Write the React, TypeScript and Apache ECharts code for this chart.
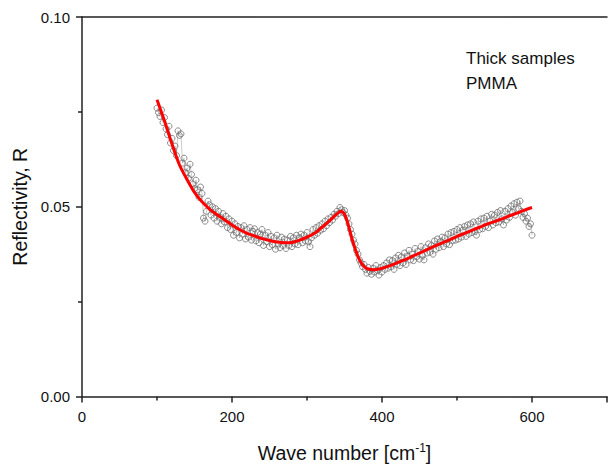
import React, { useEffect, useRef } from "react";
import * as echarts from "echarts";

const X_TICKS = [0, 200, 400, 600];
const Y_TICKS = ["0.00", "0.05", "0.10"];

// measured spectrum: wave number grid start and spacing
const MEAS_START = 100;
const MEAS_STEP = 2;
const measuredR = [
  0.076, 0.0748, 0.0738, 0.0755, 0.0722, 0.0735, 0.0705, 0.069, 0.0712, 0.0668,
  0.068, 0.0648, 0.066, 0.0635, 0.07, 0.0688, 0.0692, 0.0615, 0.0628, 0.059,
  0.0602, 0.0575, 0.0612, 0.0585, 0.056, 0.0548, 0.057, 0.0545, 0.0525, 0.0552,
  0.0535, 0.047, 0.0462, 0.0488, 0.0515, 0.0505, 0.0478, 0.05, 0.047, 0.0495,
  0.0462, 0.0488, 0.0472, 0.0455, 0.0482, 0.046, 0.0475, 0.0445, 0.0468, 0.044,
  0.0462, 0.0425, 0.0455, 0.0432, 0.0448, 0.0418, 0.0445, 0.0428, 0.045, 0.0415,
  0.044, 0.042, 0.0445, 0.0412, 0.0435, 0.0442, 0.041, 0.0432, 0.0405, 0.0428,
  0.044, 0.0398, 0.0425, 0.0408, 0.0432, 0.0395, 0.0422, 0.04, 0.0418, 0.0388,
  0.0425, 0.0402, 0.0392, 0.042, 0.0398, 0.0415, 0.039, 0.0412, 0.0398, 0.0422,
  0.0395, 0.0418, 0.0402, 0.0425, 0.04, 0.0418, 0.0428, 0.0405, 0.0425, 0.041,
  0.0432, 0.0408, 0.0395, 0.0418, 0.044, 0.0425, 0.0445, 0.043, 0.045, 0.0438,
  0.0455, 0.0442, 0.0462, 0.045, 0.0468, 0.0458, 0.0472, 0.0465, 0.048, 0.0475,
  0.0488, 0.0482, 0.0498, 0.0492, 0.0485, 0.049, 0.0478, 0.047, 0.0455, 0.044,
  0.0428, 0.0412, 0.0402, 0.0385, 0.0375, 0.036, 0.0352, 0.0342, 0.0348, 0.0335,
  0.0325, 0.034, 0.033, 0.0322, 0.0338, 0.0328, 0.0345, 0.0332, 0.032, 0.034,
  0.0328, 0.0345, 0.0335, 0.0352, 0.0338, 0.036, 0.0342, 0.0358, 0.0335, 0.0365,
  0.0348, 0.0372, 0.0345, 0.0368, 0.0352, 0.0378, 0.0348, 0.037, 0.0385, 0.036,
  0.0375, 0.0358, 0.039, 0.0368, 0.0382, 0.0362, 0.0395, 0.0372, 0.036, 0.0392,
  0.0378, 0.0402, 0.038, 0.0398, 0.0375, 0.041, 0.0388, 0.0415, 0.0392, 0.0408,
  0.042, 0.0395, 0.0418, 0.0402, 0.0428, 0.04, 0.0432, 0.041, 0.0435, 0.0412,
  0.044, 0.0415, 0.0445, 0.042, 0.0438, 0.0448, 0.0422, 0.0452, 0.0428, 0.0455,
  0.0432, 0.046, 0.0435, 0.0425, 0.0462, 0.044, 0.0468, 0.0442, 0.047, 0.0448,
  0.0475, 0.0445, 0.0462, 0.048, 0.0452, 0.0478, 0.0458, 0.0485, 0.046, 0.049,
  0.0468, 0.0452, 0.0488, 0.0465, 0.0495, 0.0472, 0.0502, 0.0485, 0.0508, 0.0478,
  0.0512, 0.0495, 0.0515, 0.0488, 0.0472, 0.0482, 0.0462, 0.047, 0.0448, 0.0455,
  0.0425,
];

// fitted model curve
const fitX = [
  100, 110, 120, 130, 140, 150, 160, 170, 180, 190, 200, 210, 220, 230, 240, 250,
  260, 270, 280, 290, 300, 310, 320, 330, 340, 345, 350, 355, 360, 365, 370, 375,
  380, 390, 400, 410, 420, 430, 440, 450, 460, 470, 480, 490, 500, 510, 520, 530,
  540, 550, 560, 570, 580, 590, 600,
];
const fitR = [
  0.0782, 0.0726, 0.0665, 0.061, 0.0572, 0.0538, 0.0513, 0.0494, 0.0479, 0.0466,
  0.0452, 0.044, 0.043, 0.0423, 0.0416, 0.0411, 0.0407, 0.0405, 0.0406, 0.0412,
  0.042, 0.043, 0.0446, 0.0463, 0.0481, 0.0488, 0.048, 0.0452, 0.0415, 0.0384,
  0.036, 0.0345, 0.0337, 0.0334, 0.0338, 0.0344, 0.0352, 0.036, 0.0369, 0.0378,
  0.0387, 0.0396, 0.0405, 0.0413, 0.0422, 0.043, 0.0438, 0.0446, 0.0454, 0.0461,
  0.0468, 0.0476, 0.0483, 0.0491, 0.0498,
];

const FONT = '"Liberation Sans", Arial, sans-serif';

export default function App() {
  const ref = useRef<HTMLDivElement>(null);

  useEffect(() => {
    if (!ref.current) return;
    const chart = echarts.init(ref.current, null, { renderer: "svg" });
    const measured = measuredR.map((v, i) => [MEAS_START + i * MEAS_STEP, v]);
    const fit = fitX.map((x, i) => [x, fitR[i]]);
    const axisLine = { show: true, lineStyle: { color: "#222", width: 1.5 } };
    chart.setOption({
      animation: false,
      backgroundColor: "#fff",
      grid: { left: 82, top: 17, width: 529, height: 388, containLabel: false },
      xAxis: [
        {
          type: "value",
          min: 0,
          max: 700,
          interval: 200,
          axisLine: { ...axisLine, onZero: false },
          axisTick: { show: true, inside: false, length: 6, lineStyle: { color: "#222", width: 1.5 } },
          minorTick: { show: true, splitNumber: 2, length: 4, lineStyle: { color: "#222", width: 1.5 } },
          splitLine: { show: false },
          axisLabel: {
            fontFamily: FONT,
            fontSize: 15,
            color: "#111",
            margin: 12,
            formatter: (v: number) => (X_TICKS.includes(v) ? String(v) : ""),
          },
          name: "Wave number [cm{sup|-1}]",
          nameLocation: "middle",
          nameGap: 45,
          nameTextStyle: {
            fontFamily: FONT,
            fontSize: 19.5,
            color: "#111",
            rich: {
              sup: { fontFamily: FONT, fontSize: 12, color: "#111", padding: [0, 0, 11, 0] },
            },
          },
        },
        {
          type: "value",
          position: "top",
          min: 0,
          max: 700,
          axisLine: { ...axisLine, onZero: false },
          axisTick: { show: false },
          axisLabel: { show: false },
          splitLine: { show: false },
        },
      ],
      yAxis: {
        type: "value",
        min: 0,
        max: 0.1,
        interval: 0.05,
        axisLine: { ...axisLine, onZero: false },
        axisTick: { show: true, inside: false, length: 6, lineStyle: { color: "#222", width: 1.5 } },
        minorTick: { show: true, splitNumber: 2, length: 4, lineStyle: { color: "#222", width: 1.5 } },
        splitLine: { show: false },
        axisLabel: {
          fontFamily: FONT,
          fontSize: 15,
          color: "#111",
          margin: 12,
          formatter: (v: number) => {
            const s = v.toFixed(2);
            return Y_TICKS.includes(s) ? s : "";
          },
        },
        name: "Reflectivity, R",
        nameLocation: "middle",
        nameGap: 51,
        nameRotate: 90,
        nameTextStyle: { fontFamily: FONT, fontSize: 19.5, color: "#111" },
      },
      graphic: [
        {
          type: "text",
          left: 466,
          top: 46,
          style: {
            text: "Thick samples\nPMMA",
            font: `17px ${FONT}`,
            lineHeight: 25,
            fill: "#111",
          },
        },
      ],
      series: [
        {
          type: "line",
          data: measured,
          symbol: "circle",
          symbolSize: 6,
          showAllSymbol: true,
          lineStyle: { color: "#555", width: 0.5, opacity: 0.6 },
          itemStyle: { color: "rgba(255,255,255,0)", borderColor: "#707070", borderWidth: 0.8 },
          z: 2,
        },
        {
          type: "line",
          data: fit,
          smooth: 0.3,
          symbol: "none",
          lineStyle: { color: "#ff0000", width: 3 },
          z: 3,
        },
      ],
    });
    return () => chart.dispose();
  }, []);

  return (
    <div
      ref={ref}
      style={{ position: "fixed", left: 0, top: 0, width: 610, height: 468, background: "#fff" }}
    />
  );
}
